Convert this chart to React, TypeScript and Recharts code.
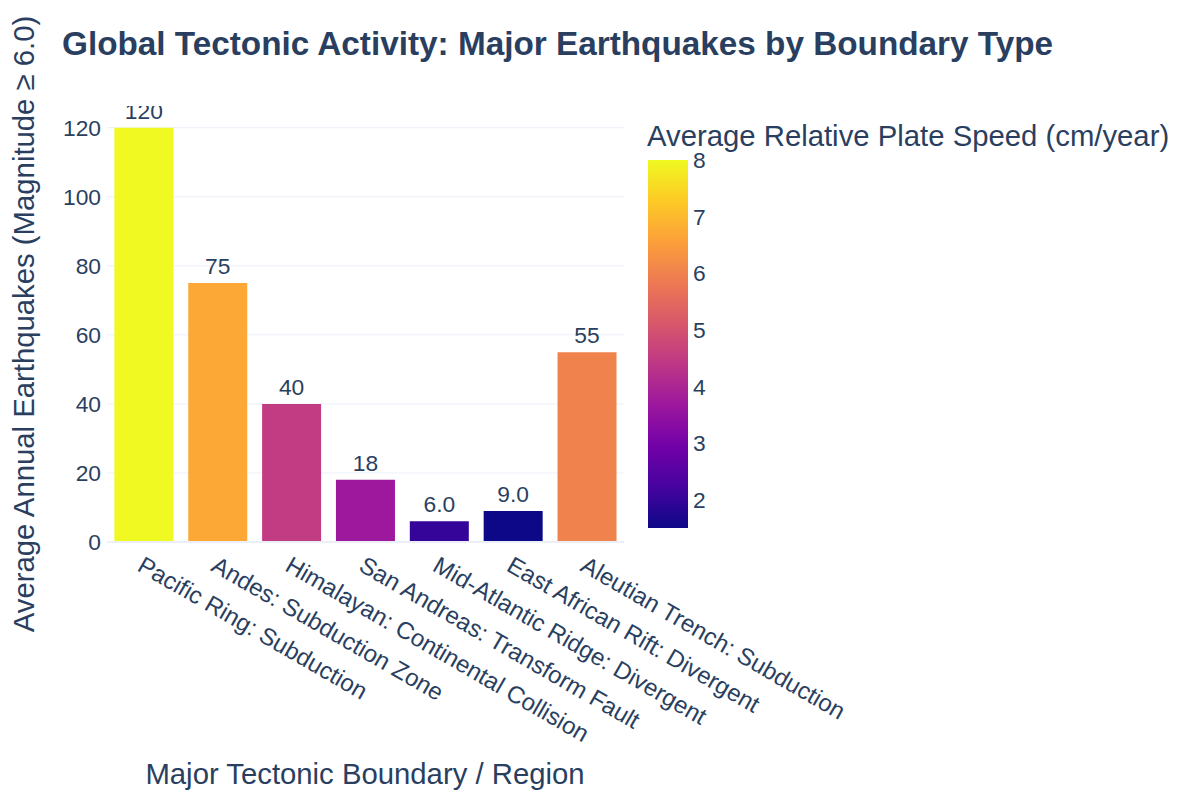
import React from 'react';
import { BarChart, Bar, XAxis, YAxis, CartesianGrid, Cell, LabelList, ReferenceLine } from 'recharts';

const regions = [
  'Pacific Ring: Subduction',
  'Andes: Subduction Zone',
  'Himalayan: Continental Collision',
  'San Andreas: Transform Fault',
  'Mid-Atlantic Ridge: Divergent',
  'East African Rift: Divergent',
  'Aleutian Trench: Subduction',
];
const annualQuakes = [120, 75, 40, 18, 6, 9, 55];
const plateSpeed = [8.0, 6.7, 4.5, 3.7, 2.0, 1.5, 6.0];
const yTicks = [0, 20, 40, 60, 80, 100, 120];
const speedTicks = [2, 3, 4, 5, 6, 7, 8];

const TITLE = 'Global Tectonic Activity: Major Earthquakes by Boundary Type';
const X_TITLE = 'Major Tectonic Boundary / Region';
const Y_TITLE = 'Average Annual Earthquakes (Magnitude \u2265 6.0)';
const CB_TITLE = 'Average Relative Plate Speed (cm/year)';

const PLASMA = ['#0d0887', '#46039f', '#7201a8', '#9c179e', '#bd3786', '#d8576b', '#ed7953', '#fb9f3a', '#fdca26', '#f0f921'];

const FONT = '"Liberation Sans", Arial, Helvetica, sans-serif';
const TXT = '#2a3f5f';
const GRID = '#ebf0f8';

const W = 1200;
const H = 800;
const PLOT = { left: 107, right: 624, top: 106, bottom: 542 };
const Y_MAX = 126.3;
const CB = { left: 648, top: 160, width: 40, height: 368, pad: 30 };

const sMin = Math.min(...plateSpeed);
const sMax = Math.max(...plateSpeed);

function hexToRgb(h: string) {
  const n = parseInt(h.slice(1), 16);
  return [(n >> 16) & 255, (n >> 8) & 255, n & 255];
}
function plasma(t: number) {
  const c = Math.max(0, Math.min(1, t)) * (PLASMA.length - 1);
  const i = Math.min(PLASMA.length - 2, Math.floor(c));
  const f = c - i;
  const a = hexToRgb(PLASMA[i]);
  const b = hexToRgb(PLASMA[i + 1]);
  const m = a.map((v, k) => Math.round(v + (b[k] - v) * f));
  return `rgb(${m[0]},${m[1]},${m[2]})`;
}

const data = regions.map((r, i) => ({
  region: r,
  quakes: annualQuakes[i],
  speed: plateSpeed[i],
}));

const cbData = [{ k: 'cb', range: [sMin, sMax] }];

const fmt = (v: number) => (v >= 10 ? String(v) : v.toFixed(1));

const XTick = (props: any) => {
  const { x, y, payload } = props;
  const ax = x - 8;
  const ay = y + 28;
  return (
    <text
      x={ax}
      y={ay}
      transform={`rotate(30, ${ax}, ${ay})`}
      textAnchor="start"
      fill={TXT}
      fontFamily={FONT}
      fontSize={24}
    >
      {payload.value}
    </text>
  );
};

const YTick = (props: any) => {
  const { x, y, payload } = props;
  return (
    <text x={x - 6} y={y} dy="0.36em" textAnchor="end" fill={TXT} fontFamily={FONT} fontSize={22.8}>
      {payload.value}
    </text>
  );
};

const CbTick = (props: any) => {
  const { x, y, payload } = props;
  return (
    <text x={x + 5} y={y} dy="0.36em" textAnchor="start" fill={TXT} fontFamily={FONT} fontSize={22.8}>
      {payload.value}
    </text>
  );
};

const BarLabel = (props: any) => {
  const { x, y, width, value } = props;
  return (
    <g clipPath="url(#plotClip)">
      <text
        x={x + width / 2}
        y={y - 9}
        textAnchor="middle"
        fill={TXT}
        fontFamily={FONT}
        fontSize={22.8}
      >
        {fmt(value)}
      </text>
    </g>
  );
};

export default function App() {
  return (
    <div style={{ position: 'absolute', left: 0, top: 0, width: W, height: H, background: '#fff', fontFamily: FONT }}>
      <div style={{ position: 'absolute', left: 0, top: 0 }}>
        <BarChart
          width={W}
          height={H}
          data={data}
          margin={{ top: PLOT.top, right: W - PLOT.right, bottom: H - PLOT.bottom - 60, left: PLOT.left - 60 }}
          barCategoryGap="10%"
        >
          <defs>
            <clipPath id="plotClip">
              <rect x={PLOT.left} y={PLOT.top} width={PLOT.right - PLOT.left} height={PLOT.bottom - PLOT.top} />
            </clipPath>
          </defs>
          <CartesianGrid vertical={false} stroke={GRID} strokeWidth={1} horizontalValues={yTicks} />
          <XAxis
            dataKey="region"
            type="category"
            height={60}
            interval={0}
            tickLine={false}
            axisLine={false}
            tickSize={0}
            tickMargin={0}
            tick={<XTick />}
          />
          <YAxis
            width={60}
            type="number"
            domain={[0, Y_MAX]}
            ticks={yTicks}
            interval={0}
            tickLine={false}
            axisLine={false}
            tickSize={0}
            tickMargin={0}
            tick={<YTick />}
          />
          <ReferenceLine y={0} stroke={GRID} strokeWidth={2} />
          <Bar dataKey="quakes" isAnimationActive={false}>
            {data.map((d, i) => (
              <Cell key={i} fill={plasma((d.speed - sMin) / (sMax - sMin))} />
            ))}
            <LabelList dataKey="quakes" content={<BarLabel />} />
          </Bar>
        </BarChart>
      </div>

      <div style={{ position: 'absolute', left: CB.left, top: CB.top - CB.pad }}>
        <BarChart
          width={CB.width + 60}
          height={CB.height + 2 * CB.pad}
          data={cbData}
          margin={{ top: CB.pad, right: 0, bottom: CB.pad, left: 0 }}
          barCategoryGap={0}
        >
          <defs>
            <linearGradient id="plasmaGrad" x1="0" y1="1" x2="0" y2="0">
              {PLASMA.map((c, i) => (
                <stop key={i} offset={`${(i / (PLASMA.length - 1)) * 100}%`} stopColor={c} />
              ))}
            </linearGradient>
          </defs>
          <XAxis dataKey="k" hide />
          <YAxis
            orientation="right"
            width={60}
            type="number"
            domain={[sMin, sMax]}
            allowDataOverflow
            ticks={speedTicks}
            interval={0}
            tickLine={false}
            axisLine={false}
            tickSize={0}
            tickMargin={0}
            tick={<CbTick />}
          />
          <Bar dataKey="range" fill="url(#plasmaGrad)" isAnimationActive={false} />
        </BarChart>
      </div>

      <svg
        width={W}
        height={H}
        style={{ position: 'absolute', left: 0, top: 0, pointerEvents: 'none' }}
      >
        <text x={62} y={55} fontFamily={FONT} fontWeight="bold" fontSize={33.3} fill={TXT}>
          {TITLE}
        </text>
        <text
          x={0}
          y={0}
          transform={`translate(34, ${(PLOT.top + PLOT.bottom) / 2}) rotate(-90)`}
          textAnchor="middle"
          fontFamily={FONT}
          fontSize={29.3}
          fill={TXT}
        >
          {Y_TITLE}
        </text>
        <text x={365} y={784} textAnchor="middle" fontFamily={FONT} fontSize={29.3} fill={TXT}>
          {X_TITLE}
        </text>
        <text x={647} y={146} fontFamily={FONT} fontSize={29.3} fill={TXT}>
          {CB_TITLE}
        </text>
      </svg>
    </div>
  );
}
